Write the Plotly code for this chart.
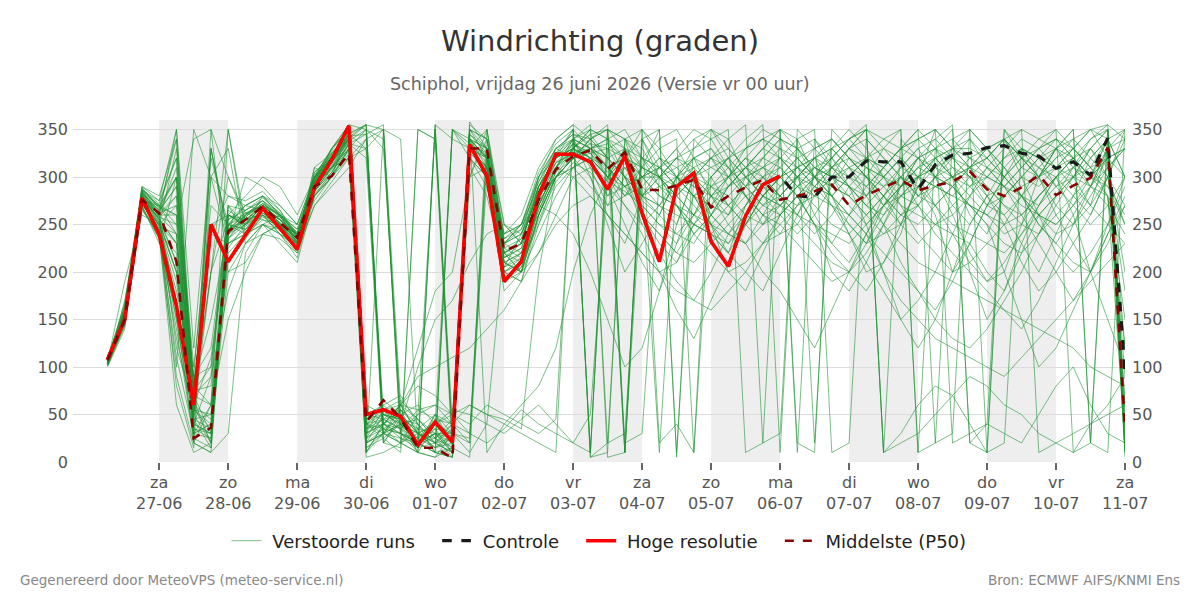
import plotly.graph_objects as go
import pandas as pd

# 6-hourly forecast steps, 26-06-2026 06 UTC .. 11-07-2026 00 UTC
times = pd.date_range("2026-06-26 06:00", periods=60, freq="6h")

control = [108, 150, 278,
           239, 164, 60, 250,   211, 239, 267, 246,   224, 289, 318, 354,
           50, 55, 48, 18,      42, 21, 334, 301,     190, 211, 280, 324,
           324, 316, 287, 322,  262, 211, 290, 304,   232, 206, 259, 292,
           301, 280, 279, 300,  300, 317, 316, 316,   287, 313, 323, 325,
           331, 333, 325, 322,  309, 316, 302, 341,
           94]

hires = [108, 150, 278,
         239, 164, 60, 250,   211, 239, 267, 246,   224, 289, 318, 354,
         50, 55, 48, 18,      42, 21, 334, 301,     190, 211, 280, 324,
         324, 316, 287, 322,  262, 211, 290, 304,   232, 206, 259, 292,
         301]

p50 = [107, 150, 276,
       262, 211, 25, 36,    243, 255, 269, 252,   236, 290, 301, 325,
       42, 65, 46, 15,      15, 4, 330, 330,      222, 230, 276, 308,
       322, 328, 308, 326,  287, 286, 291, 297,   268, 280, 289, 297,
       276, 280, 285, 292,  270, 281, 289, 297,   286, 291, 295, 306,
       287, 280, 289, 302,  281, 291, 299, 331,
       37]

runs = [
    [105,160,280, 250,200,50,330, 240,260,270,250, 230,300,320,340, 40,50,45,20, 30,30,340,320, 220,230,290,320, 330,320,300,330, 280,290,300,310, 250,220,270,300, 310,290,280,300, 310,320,310,290, 300,320,330,330, 320,340,310,300, 320,330,310,340, 60],
    [110,150,275, 270,240,30,40, 250,270,265,255, 240,290,310,330, 350,40,60,30, 20,10,350,330, 200,210,280,310, 340,330,310,320, 300,300,290,320, 280,260,300,310, 290,310,300,290, 320,310,300,320, 280,300,320,340, 310,300,330,320, 310,300,290,330, 30],
    [100,140,285, 260,120,60,20, 270,250,280,260, 230,310,300,350, 20,30,55,40, 10,350,320,300, 240,250,300,330, 320,340,350,10, 300,280,270,260, 300,320,330,340, 350,340,20,330, 310,300,290,270, 260,250,240,230, 200,180,220,260, 280,300,320,340, 350],
    [108,155,270, 230,300,80,240, 230,240,260,240, 220,280,300,330, 50,60,40,10, 350,20,330,310, 190,200,260,300, 310,320,280,310, 290,270,250,300, 320,290,310,300, 280,260,290,310, 320,300,280,250, 290,310,300,260, 240,280,300,290, 310,320,300,340, 20],
    [103,170,265, 240,220,40,30, 200,230,250,260, 240,300,330,350, 10,30,50,60, 40,30,300,350, 230,220,270,310, 330,350,20,340, 280,300,320,310, 290,270,250,280, 300,320,330,340, 320,300,270,280, 290,260,200,210, 230,250,280,300, 330,350,20,340, 300],
    [112,145,290, 280,340,70,60, 350,250,270,260, 250,290,310,320, 340,30,20,50, 350,40,20,330, 220,230,290,320, 350,10,330,300, 260,240,220,250, 270,300,320,310, 300,280,250,230, 260,290,310,330, 340,320,300,310, 330,340,320,310, 300,280,260,300, 180],
    [106,150,278, 255,160,20,10, 240,265,275,250, 225,295,330,350, 30,45,35,15, 50,20,340,310, 200,190,250,300, 320,330,340,350, 320,290,280,300, 310,320,300,280, 270,290,310,300, 290,280,310,330, 350,20,340,320, 300,290,280,270, 300,320,340,350, 10],
    [109,158,282, 262,280,90,120, 260,255,270,245, 230,300,315,345, 60,50,40,30, 20,350,330,300, 180,200,240,280, 310,320,300,290, 310,330,340,10, 350,320,300,280, 270,260,250,240, 230,250,270,290, 310,300,290,270, 250,200,150,100, 120,160,200,250, 300],
    [104,165,272, 245,100,350,300, 280,275,285,265, 235,285,305,335, 320,20,45,10, 5,30,350,340, 250,240,300,330, 340,310,270,300, 320,310,290,270, 250,230,260,290, 320,340,350,10, 20,340,320,300, 280,290,300,310, 320,300,280,260, 240,250,270,300, 340],
    [107,152,288, 268,260,45,330, 230,245,265,255, 235,310,325,340, 25,55,65,45, 30,15,5,320, 210,220,285,315, 325,330,320,330, 270,250,230,260, 290,310,330,350, 340,320,300,310, 330,350,340,330, 320,310,290,270, 250,230,220,240, 270,300,330,350, 40],
    [111,148,274, 250,330,70,200, 300,262,255,250, 240,275,300,330, 10,40,30,20, 10,5,340,320, 230,250,300,320, 330,320,310,290, 260,230,210,240, 260,290,300,310, 330,320,300,280, 260,240,220,200, 180,160,190,230, 270,300,320,340, 350,330,310,290, 260],
    [105,162,284, 258,210,55,40, 220,240,270,260, 245,290,310,330, 45,60,70,40, 20,10,358,330, 215,225,280,300, 320,340,350,20, 30,300,310,320, 330,300,280,260, 240,250,280,310, 330,340,320,300, 280,270,290,310, 330,340,320,300, 270,250,280,310, 330],
    [102,145,268, 235,140,25,15, 255,270,280,270, 250,300,320,345, 355,20,50,30, 25,45,320,290, 200,215,290,320, 340,350,340,320, 300,280,270,250, 240,260,290,320, 340,330,310,290, 280,300,330,350, 10,20,30,350, 330,300,280,250, 230,260,290,320, 10],
    [110,157,280, 265,300,100,270, 250,245,265,250, 235,295,315,340, 35,40,30,25, 15,30,330,300, 190,205,265,305, 320,330,320,300, 280,270,290,310, 320,310,290,270, 260,280,300,320, 340,320,300,280, 270,250,260,280, 300,320,330,320, 310,290,270,330, 120],
    [106,150,276, 248,190,65,20, 245,260,275,260, 230,305,320,350, 15,30,60,55, 45,25,340,330, 220,200,270,310, 340,355,5,10, 350,320,300,290, 280,270,290,300, 280,260,240,260, 290,310,300,290, 300,310,320,310, 300,290,310,330, 350,10,20,350, 50],
    [108,160,286, 275,350,80,240, 280,270,280,265, 240,285,310,340, 50,35,20,10, 5,15,345,330, 230,240,280,300, 310,290,270,280, 300,310,320,300, 280,290,310,330, 350,20,10,350, 330,310,290,300, 320,330,340,350, 330,310,290,300, 320,340,350,320, 300],
    [101,143,266, 240,110,30,60, 260,250,260,245, 225,270,295,320, 40,55,60,120, 180,200,300,340, 240,250,290,310, 300,280,260,240, 220,200,210,250, 280,300,310,320, 310,290,270,250, 240,260,280,300, 290,270,250,240, 230,220,240,260, 280,300,310,320, 330],
    [109,155,279, 260,240,45,50, 210,235,260,250, 230,280,305,335, 330,350,40,20, 10,5,330,320, 210,200,260,300, 320,330,340,330, 310,300,280,260, 250,270,290,310, 320,310,290,280, 300,320,340,350, 10,330,310,290, 270,280,300,320, 330,310,290,280, 20],
    [104,168,283, 270,300,60,110, 240,250,270,255, 240,300,330,355, 5,10,20,30, 40,50,60,50, 40,30,20,10, 350,330,310,290, 280,270,260,250, 240,230,250,270, 290,300,310,300, 290,270,250,230, 210,200,190,180, 170,160,150,140, 130,120,100,90, 80],
    [107,150,281, 252,170,35,25, 235,255,268,252, 232,292,318,342, 20,35,45,25, 35,10,335,315, 205,215,275,315, 335,325,305,325, 275,260,240,230, 260,290,310,330, 320,300,290,280, 300,320,330,320, 300,290,280,270, 260,250,260,280, 300,320,330,310, 200],
    [103,147,273, 242,130,50,350, 300,255,262,248, 228,288,312,338, 350,340,30,10, 40,20,340,320, 225,235,285,325, 350,5,10,340, 310,290,270,250, 240,220,250,280, 300,310,320,330, 310,290,270,250, 230,250,270,290, 310,330,350,10, 20,30,40,50, 60],
    [111,159,287, 272,320,75,80, 270,265,275,262, 238,305,322,348, 40,25,10,350, 340,10,320,300, 230,245,295,330, 345,340,320,300, 280,300,320,340, 350,330,310,290, 300,310,320,330, 340,350,330,310, 300,290,280,300, 320,340,350,340, 330,320,300,290, 250],
    [105,153,277, 256,230,40,30, 250,258,272,258, 236,298,326,344, 30,65,50,15, 20,35,325,310, 215,225,280,320, 330,315,290,270, 250,270,300,320, 330,310,290,270, 280,300,320,310, 290,270,260,280, 300,310,330,340, 320,300,280,260, 250,270,300,330, 340],
    [108,149,271, 246,80,15,300, 230,240,258,248, 232,296,322,346, 355,30,40,45, 25,40,350,320, 200,210,270,300, 320,340,355,10, 340,310,290,300, 320,340,355,20, 30,350,330,310, 300,290,310,330, 340,350,20,30, 40,350,330,310, 290,300,330,350, 5],
    [106,156,279, 262,270,85,150, 245,262,270,255, 238,294,316,336, 45,50,55,35, 10,350,335,305, 195,205,255,295, 315,305,280,290, 300,320,310,290, 270,260,280,290, 270,250,230,210, 200,220,250,280, 300,320,330,310, 290,270,250,240, 260,280,300,340, 30],
    [104,151,275, 258,250,60,45, 260,248,262,258, 242,302,328,352, 10,40,35,55, 60,50,30,330, 240,260,310,340, 355,5,20,30, 320,300,280,300, 320,330,310,290, 280,270,290,310, 330,350,10,340, 320,300,290,270, 260,280,300,320, 340,330,310,280, 150],
    [109,161,289, 266,340,50,200, 350,240,255,245, 222,282,302,328, 40,45,50,30, 15,25,310,280, 205,220,265,305, 330,345,350,340, 320,310,290,280, 260,240,230,260, 290,310,330,340, 320,300,280,260, 270,290,300,320, 330,310,280,250, 230,210,200,230, 270],
    [102,146,269, 238,150,30,25, 225,250,265,250, 228,286,308,334, 25,35,30,20, 355,20,335,325, 210,200,270,310, 325,335,330,320, 310,300,320,330, 340,350,10,20, 350,330,310,300, 280,260,280,300, 320,330,350,20, 10,340,320,300, 310,330,350,355, 10],
    [110,154,282, 254,200,45,35, 240,258,272,260, 240,298,318,340, 355,350,30,20, 30,10,330,310, 220,230,290,320, 335,325,300,280, 290,310,300,280, 290,300,320,340, 330,310,290,270, 250,230,240,260, 280,300,310,300, 290,270,260,280, 300,310,300,320, 90],
    [107,158,284, 264,290,70,90, 265,252,268,252, 234,300,324,344, 35,50,45,35, 50,40,345,325, 235,245,295,325, 340,330,310,320, 340,350,5,340, 320,300,280,260, 270,290,310,320, 300,280,300,320, 340,350,330,320, 310,290,270,260, 250,270,290,310, 330],
    [105,190,260, 250,230,90,100, 250,245,260,250, 235,295,320,345, 30,40,60,90, 100,110,120,140, 160,190,220,250, 270,280,260,240, 220,200,180,170, 160,180,200,230, 250,270,280,270, 260,240,200,170, 150,130,120,110, 100,90,110,130, 150,170,190,210, 230],
    [106,152,280, 260,260,55,50, 235,250,270,255, 232,290,314,338, 20,30,25,15, 40,55,50,40, 30,45,60,40, 20,10,350,340, 330,300,270,240, 220,200,210,230, 260,280,300,320, 340,350,10,20, 30,50,70,90, 80,60,50,30, 20,10,40,60, 90],
    [104,150,276, 245,180,90,300, 330,230,250,240, 215,285,310,335, 345,355,60,30, 20,40,60,50, 45,35,200,300, 320,300,250,200, 230,260,300,280, 250,200,180,220, 260,300,320,280, 240,200,210,250, 290,320,300,200, 150,180,230,270, 300,260,200,150, 100],
    [107,160,283, 265,290,20,60, 240,300,290,270, 250,300,310,320, 10,350,340,20, 50,30,10,40, 230,250,270,260, 240,200,150,100, 120,180,250,300, 280,250,270,300, 320,300,260,230, 210,240,280,310, 330,300,260,220, 190,200,250,300, 330,340,320,300, 350],
    [103,155,270, 250,270,70,30, 250,240,250,230, 210,280,300,320, 330,40,25,20, 10,15,350,10, 40,60,80,120, 200,260,300,320, 350,20,40,10, 300,320,280,250, 260,280,250,220, 200,180,210,240, 300,350,330,310, 280,250,210,180, 200,230,260,300, 250],
    [109,165,290, 275,320,40,90, 180,230,240,250, 240,290,330,355, 350,330,50,20, 30,10,330,350, 250,230,300,340, 355,340,320,10, 340,300,280,260, 240,220,200,180, 220,260,300,330, 350,330,300,270, 240,220,200,230, 270,300,320,330, 340,320,290,270, 240],
    [106,148,279, 240,60,10,20, 260,280,300,290, 260,300,320,340, 20,30,40,100, 150,170,210,240, 250,230,260,300, 330,350,340,300, 250,220,190,170, 200,240,270,290, 310,330,340,320, 290,250,200,150, 120,150,200,250, 280,260,230,200, 240,280,320,340, 300],
    [111,152,285, 270,250,340,350, 200,210,240,235, 220,270,290,310, 340,350,20,35, 30,20,300,310, 220,210,250,290, 310,330,300,270, 240,200,160,130, 170,210,250,280, 300,280,250,200, 180,210,250,290, 320,340,355,20, 40,30,20,50, 80,100,60,30, 20],
    [105,158,281, 255,210,30,40, 245,255,260,240, 225,290,315,340, 50,45,35,50, 60,40,30,20, 35,55,40,30, 20,50,300,330, 320,340,350,320, 300,270,250,230, 240,270,300,320, 340,355,10,30, 60,80,70,40, 10,350,320,300, 330,350,20,10, 350],
    [108,161,287, 260,350,120,320, 250,270,280,260, 245,295,320,345, 330,40,60,45, 25,5,355,340, 235,250,305,335, 350,10,350,330, 300,310,330,350, 340,310,280,260, 250,230,210,190, 200,230,270,300, 270,240,220,200, 180,160,140,170, 210,250,290,330, 350],
    [102,144,268, 235,90,20,10, 30,220,250,240, 230,280,300,325, 40,30,20,10, 355,340,330,320, 220,200,220,260, 300,310,290,250, 210,180,230,280, 300,320,340,355, 10,340,300,270, 240,210,180,150, 170,200,240,280, 310,290,260,230, 200,170,200,240, 270],
    [110,156,282, 268,300,60,250, 260,250,270,255, 235,300,320,345, 25,40,50,30, 40,350,340,330, 200,190,260,310, 335,320,300,310, 280,260,300,330, 350,340,300,280, 260,240,260,290, 310,280,250,210, 180,150,130,120, 140,170,200,240, 280,310,340,355, 340],
    [104,153,274, 250,160,80,60, 150,200,240,250, 240,285,305,330, 35,45,60,80, 70,50,40,60, 50,40,30,45, 340,330,310,290, 300,320,300,280, 250,240,260,280, 300,320,300,280, 260,280,300,320, 300,270,240,210, 190,210,240,270, 290,310,330,300, 270],
    [107,159,283, 258,280,25,330, 240,260,275,258, 238,292,315,342, 355,20,15,350, 340,30,20,350, 230,240,285,320, 340,300,260,230, 280,310,330,300, 260,240,230,250, 270,290,300,290, 280,260,240,250, 270,300,330,350, 10,20,330,300, 260,230,200,240, 280],
    [106,151,277, 252,200,75,100, 270,240,250,245, 230,290,310,335, 20,50,45,40, 20,25,340,300, 210,220,275,300, 320,330,335,320, 260,240,220,210, 230,250,230,200, 180,150,120,160, 200,240,270,290, 310,330,320,300, 270,260,280,310, 330,300,270,250, 230],
    [105,154,278, 248,240,50,20, 260,250,262,252, 236,294,318,340, 15,25,40,30, 15,20,335,320, 215,230,290,320, 330,320,300,320, 310,350,10,300, 290,280,260,250, 280,300,320,340, 320,300,280,260, 250,270,290,310, 320,340,300,260, 220,200,220,250, 290],
    [108,149,275, 262,310,35,30, 240,255,270,250, 232,296,320,343, 345,50,40,20, 25,15,350,340, 225,215,270,310, 330,345,320,300, 290,10,300,320, 310,300,330,340, 320,300,280,300, 330,320,310,330, 350,330,300,280, 260,240,250,280, 300,320,300,320, 330],
    [103,147,272, 244,150,45,15, 235,260,272,260, 238,298,322,344, 30,40,55,20, 35,30,25,300, 205,240,290,330, 345,335,310,280, 310,300,270,240, 260,280,300,320, 340,330,300,280, 250,230,260,290, 320,300,270,250, 280,310,330,320, 290,270,250,270, 300],
    [109,162,286, 270,260,65,200, 255,265,278,262, 240,300,324,348, 40,35,30,15, 30,25,340,320, 210,200,260,300, 320,325,330,340, 350,330,300,280, 270,290,310,330, 350,10,340,310, 290,270,290,310, 330,340,320,300, 280,290,310,330, 340,320,300,280, 120],
    [106,150,280, 256,230,55,35, 250,262,270,256, 234,292,316,341, 45,55,35,25, 45,40,330,310, 220,235,285,315, 325,315,295,285, 270,250,240,260, 280,300,320,300, 280,300,320,300, 270,250,270,290, 310,320,300,290, 300,320,340,330, 310,330,350,340, 60],
]

bad = [i for i, r in enumerate(runs) if len(r) != 60]
if bad or len(control) != 60 or len(p50) != 60 or len(hires) != 40:
    raise SystemExit(f"length problem: runs {bad}, control {len(control)}, p50 {len(p50)}, hires {len(hires)}")

tick_days = ["2026-06-27", "2026-06-28", "2026-06-29", "2026-06-30", "2026-07-01",
             "2026-07-02", "2026-07-03", "2026-07-04", "2026-07-05", "2026-07-06",
             "2026-07-07", "2026-07-08", "2026-07-09", "2026-07-10", "2026-07-11"]
day_names = ["za", "zo", "ma", "di", "wo", "do", "vr", "za", "zo", "ma", "di", "wo", "do", "vr", "za"]
date_labels = ["27-06", "28-06", "29-06", "30-06", "01-07", "02-07", "03-07", "04-07",
               "05-07", "06-07", "07-07", "08-07", "09-07", "10-07", "11-07"]
shade_days = ["2026-06-27", "2026-06-29", "2026-07-01", "2026-07-03",
              "2026-07-05", "2026-07-07", "2026-07-09"]
y_ticks = [0, 50, 100, 150, 200, 250, 300, 350]

FONT = "DejaVu Sans"
GREEN = "rgba(30,145,50,0.58)"
NB = "\u00a0"
PLOT_TOP, PLOT_BOTTOM, PLOT_LEFT, PLOT_W = 120, 462, 73, 1052
PLOT_H = PLOT_BOTTOM - PLOT_TOP


def py(pixel_y):
    return (PLOT_BOTTOM - pixel_y) / PLOT_H


def px(pixel_x):
    return (pixel_x - PLOT_LEFT) / PLOT_W


fig = go.Figure()

for k, r in enumerate(runs):
    fig.add_trace(go.Scatter(
        x=times, y=r, mode="lines", name=NB + "Verstoorde runs" + NB * 3,
        legendgroup="runs", showlegend=(k == 0),
        line=dict(color=GREEN, width=1.0), hoverinfo="skip"))

fig.add_trace(go.Scatter(x=times, y=control, mode="lines", name=NB + "Controle" + NB * 3,
                         line=dict(color="#1a1a1a", width=3.2, dash="dash")))
fig.add_trace(go.Scatter(x=times[:len(hires)], y=hires, mode="lines",
                         name=NB + "Hoge resolutie" + NB * 3,
                         line=dict(color="#ff0000", width=3.6)))
fig.add_trace(go.Scatter(x=times, y=p50, mode="lines", name=NB + "Middelste (P50)",
                         line=dict(color="#8b0000", width=2.6, dash="dash")))
# invisible trace so the right-hand axis is drawn
fig.add_trace(go.Scatter(x=[times[0]], y=[None], yaxis="y2", showlegend=False,
                         hoverinfo="skip", mode="lines"))

shapes = []
for d in shade_days:
    d0 = pd.Timestamp(d)
    shapes.append(dict(type="rect", xref="x", yref="paper",
                       x0=d0, x1=d0 + pd.Timedelta(days=1), y0=0, y1=1,
                       fillcolor="#eeeeee", line=dict(width=0), layer="below"))

annotations = [
    dict(text="Schiphol, vrijdag 26 juni 2026 (Versie vr 00 uur)",
         xref="paper", yref="paper", x=px(600), y=py(84),
         xanchor="center", yanchor="middle", showarrow=False,
         font=dict(family=FONT, size=17.5, color="#666666")),
    dict(text="Gegenereerd door MeteoVPS (meteo-service.nl)",
         xref="paper", yref="paper", x=px(18), y=py(580),
         xanchor="left", yanchor="middle", showarrow=False,
         font=dict(family=FONT, size=13.5, color="#888888")),
    dict(text="Bron: ECMWF AIFS/KNMI Ens",
         xref="paper", yref="paper", x=px(1182), y=py(580),
         xanchor="right", yanchor="middle", showarrow=False,
         font=dict(family=FONT, size=13.5, color="#888888")),
]
# two-line day labels under each midnight tick
for d, n, lab in zip(tick_days, day_names, date_labels):
    annotations.append(dict(text=n, xref="x", yref="paper", x=d, y=py(482.5),
                            xanchor="center", yanchor="middle", showarrow=False,
                            font=dict(family=FONT, size=16, color="#555555")))
    annotations.append(dict(text=lab, xref="x", yref="paper", x=d, y=py(503.5),
                            xanchor="center", yanchor="middle", showarrow=False,
                            font=dict(family=FONT, size=16, color="#555555")))

fig.update_layout(
    width=1200, height=600,
    margin=dict(l=73, r=75, t=120, b=138),
    paper_bgcolor="white", plot_bgcolor="white",
    font=dict(family=FONT, color="#555555"),
    title=dict(text="Windrichting (graden)", x=0.5, xref="container", xanchor="center",
               y=1 - 41 / 600, yref="container", yanchor="middle",
               font=dict(family=FONT, size=29, color="#333333")),
    shapes=shapes,
    xaxis=dict(range=["2026-06-25 18:00", "2026-07-11 00:00"],
               tickvals=tick_days, showticklabels=False,
               ticks="outside", ticklen=7, tickwidth=2, tickcolor="#666666",
               showgrid=False, zeroline=False, showline=False),
    yaxis=dict(range=[0, 360], tickvals=y_ticks, showgrid=True, gridcolor="#dcdcdc",
               gridwidth=1, zeroline=False, showline=False, ticks="",
               ticklabelstandoff=4,
               tickfont=dict(family=FONT, size=16, color="#555555")),
    yaxis2=dict(range=[0, 360], tickvals=y_ticks, overlaying="y", side="right",
                showgrid=False, zeroline=False, showline=False, ticks="",
                ticklabelstandoff=6,
                tickfont=dict(family=FONT, size=16, color="#555555")),
    legend=dict(orientation="h", x=0.5, xanchor="center", y=py(541), yanchor="middle",
                font=dict(family=FONT, size=18, color="#222222"),
                bgcolor="rgba(0,0,0,0)"),
    annotations=annotations,
)

fig.write_html("out.html")
